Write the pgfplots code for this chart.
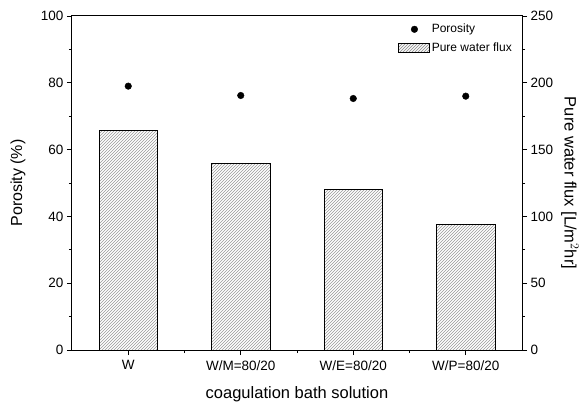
\documentclass[border=0pt]{standalone}
\usepackage{pgfplots}
\pgfplotsset{compat=1.18}
\usetikzlibrary{patterns}
\usepackage{fontspec}
\setmainfont{Liberation Sans}
\begin{document}
\begin{tikzpicture}
\pgfplotsset{
  common/.style={
    width=450pt, height=334pt, scale only axis,
    xmin=-0.5, xmax=3.5,
    tick align=outside,
    major tick length=5pt, minor tick length=3pt,
    every tick/.style={black, line width=0.8pt},
    axis line style={line width=1pt},
    tick label style={font=\fontsize{13.5}{16}\selectfont},
    /pgf/number format/assume math mode=true,
  }
}
\begin{axis}[common, name=left,
  ymin=0, ymax=100,
  xtick={0,1,2,3},
  xticklabels={W, W/M=80/20, W/E=80/20, W/P=80/20},
  minor xtick={0.5,1.5,2.5},
  xtick pos=bottom, ytick pos=left,
  ytick={0,20,...,100}, minor ytick={10,30,50,70,90},
  xticklabel style={yshift=-2pt},
  xlabel={coagulation bath solution},
  ylabel={Porosity (\%)},
  every axis x label/.style={at={(axis description cs:0.5,0)}, yshift=-44pt, anchor=center, font=\fontsize{16.5}{19}\selectfont},
  every axis y label/.style={at={(axis description cs:0,0.5)}, xshift=-54pt, anchor=center, rotate=90, font=\fontsize{16}{19}\selectfont},
]
\addplot[only marks, mark=*, mark size=3.3pt, black] coordinates {(0,79.0) (1,76.2) (2,75.3) (3,76.0)};
\end{axis}
\begin{axis}[common,
  ymin=0, ymax=250,
  axis x line=none,
  axis y line*=right,
  ytick={0,50,...,250}, minor ytick={25,75,125,175,225},
  ylabel={Pure water flux [L/m$^2$hr]},
  every axis y label/.style={at={(axis description cs:1,0.5)}, xshift=48pt, anchor=center, rotate=-90, font=\fontsize{16.5}{19}\selectfont},
  legend style={at={(axis description cs:0.722,0.985)}, anchor=north west, draw=none, fill=none,
    font=\fontsize{12}{14}\selectfont, row sep=4pt, inner sep=1pt},
  legend cell align=left,
]
\addlegendimage{legend image code/.code={\draw[black, fill=black] (16pt,0pt) circle (3.3pt);}}
\addlegendentry{Porosity}
\addplot[ybar, bar width=0.52, draw=black, line width=0.9pt, fill=white,
  postaction={pattern=north east lines, pattern color=black!40},
  legend image code/.code={\draw[black, line width=0.7pt, fill=white, postaction={pattern=north east lines, pattern color=black!40}] (0pt,-4.5pt) rectangle (31pt,4.5pt);}]
  coordinates {(0,164) (1,139.5) (2,120) (3,94)};
\addlegendentry{Pure water flux}
\end{axis}
\pgfresetboundingbox
\path[use as bounding box] (left.south west) ++(-72pt,-57pt) rectangle ++(583pt,407pt);
\end{tikzpicture}
\end{document}
